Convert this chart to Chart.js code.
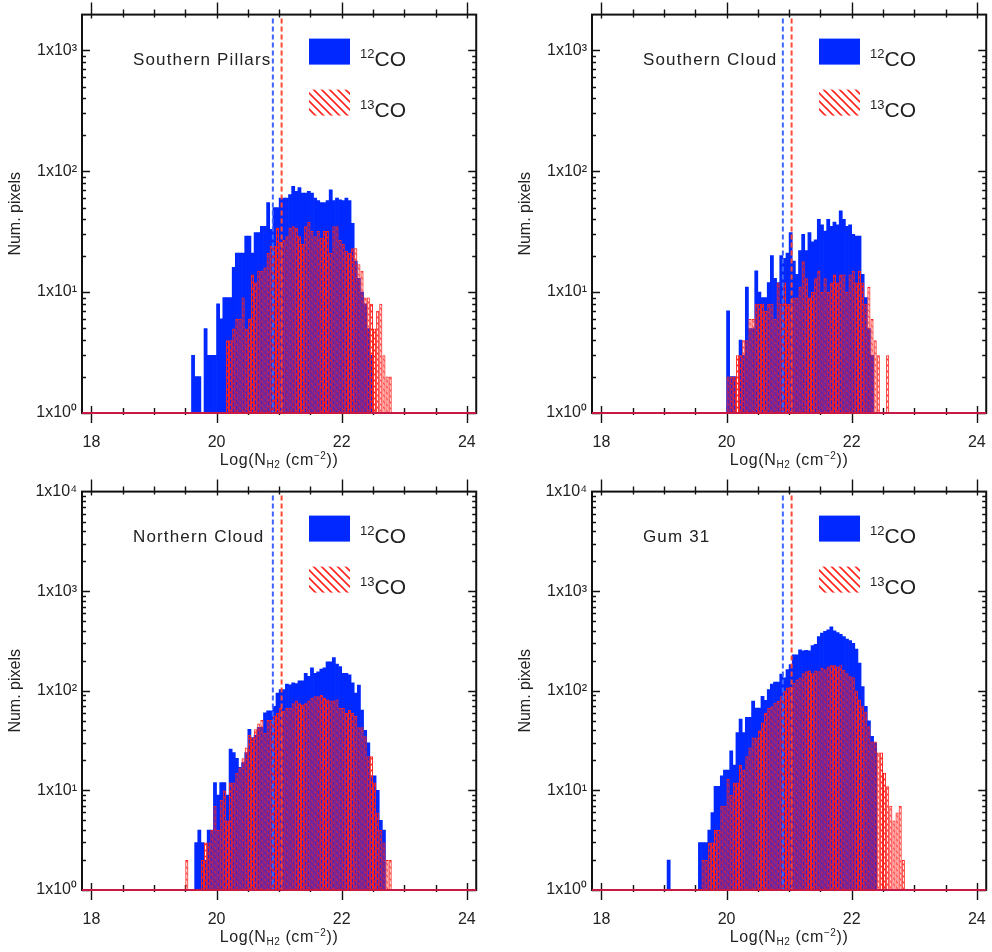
<!DOCTYPE html>
<html>
<head>
<meta charset="utf-8">
<style>
    body {
        margin: 0;
        overflow: hidden;
        background: #fff;
        width: 992px;
        height: 952px;
        position: relative;
    }
    .panel { position: absolute; width: 496px; height: 476px; }
    .panel canvas { position: absolute; left: 0; top: 0; }
    .name {
        position: absolute;
        font: 17px 'Liberation Sans', Arial, sans-serif;
        line-height: 17px;
        color: #222;
        letter-spacing: 1.15px;
        white-space: nowrap;
    }
    .key {
        position: absolute;
        font: 21px 'Liberation Sans', Arial, sans-serif;
        line-height: 21px;
        color: #222;
        white-space: nowrap;
    }
    .key sup { font-size: 13px; vertical-align: 8px; line-height: 0; }
    .xtitle {
        position: absolute;
        font: 16px 'Liberation Sans', Arial, sans-serif;
        line-height: 16px;
        color: #222;
        white-space: nowrap;
        transform: translateX(-50%);
        letter-spacing: 0.6px;
    }
    .xtitle sub { font-size: 10px; vertical-align: -3px; line-height: 0; }
    .xtitle sup { font-size: 10px; vertical-align: 6px; line-height: 0; }
</style>
<script src="https://cdn.jsdelivr.net/npm/chart.js@4"></script>
</head>
<body>
<script>
// histogram bins are 0.05 dex wide; each list starts at the given left bin edge
const binWidth = 0.05;
const xTicks = [18, 20, 22, 24];
const cutLines = [20.9, 21.04];   // 12CO / 13CO dashed limits

const pillarsStart12 = 19.6;
const pillars12 = [3,2,2,1,5,3,3,3,8,6,9,9,9,16,21,21,21,29,29,21,31,31,35,35,55,33,50,50,60,60,60,64,75,68,73,66,66,68,66,60,57,55,55,57,70,57,60,58,57,60,57,37,18,13,10,8,5,3];
const pillarsStart13 = 20.15;
const pillars13 = [4,4,5,6,6,9,5,6,14,12,15,15,16,21,24,24,34,26,27,29,34,35,34,29,25,35,38,32,29,32,28,32,32,21,35,35,27,25,22,21,23,23,17,15,9,9,8,5,7,8,3,2,2];

const southStart12 = 20.0;
const south12 = [7,2,2,1,4,3,11,5,5,15,10,9,9,12,20,13,12,20,19,21,31,18,14,22,30,22,31,26,27,40,36,32,40,35,38,36,47,40,35,36,30,29,29,14,9,5,3];
const southStart13 = 20.0;
const south13 = [2,2,2,3,3,4,4,6,6,8,8,8,7,8,8,6,12,8,12,8,8,9,9,11,18,13,9,10,13,15,10,13,10,12,14,12,14,14,10,14,15,12,15,12,8,11,6,4,3,0,0,3];

const northStart12 = 19.65;
const north12 = [3,4,3,2,4,4,12,9,12,12,9,26,24,21,17,19,24,41,34,36,43,43,60,63,63,70,95,103,103,117,115,120,118,126,126,150,140,170,150,155,165,170,195,195,216,185,175,150,150,145,120,95,114,64,40,30,14,14,10,5,4];
const northStart13 = 19.5;
const north13 = [2,0,0,0,0,2,3,3,4,7,4,8,10,5,12,12,15,17,21,27,36,34,41,47,51,38,51,51,56,60,67,63,67,67,75,80,75,73,75,80,85,88,88,91,85,82,80,80,82,67,67,60,64,60,56,43,43,35,22,22,12,6,4,3,2,2];

const gumStart12 = 19.0;
const gum12 = [0,2,0,0,0,0,0,0,0,0,0,3,3,3,4,6,11,11,14,16,16,25,18,38,52,38,54,54,79,67,67,88,80,103,117,122,122,147,135,163,183,230,230,258,252,255,252,285,293,350,380,395,410,440,400,385,370,350,330,320,300,262,190,110,70,50,35,30];
const gumStart13 = 19.6;
const gum13 = [2,2,3,3,4,4,7,7,13,9,12,12,18,16,22,27,34,34,40,48,60,67,70,76,79,88,100,108,110,120,130,135,150,157,160,150,160,157,170,165,175,180,180,175,180,163,150,140,137,100,82,70,62,44,31,31,24,24,15,11,7,5,6,7,2];

const panelNames = ['Southern Pillars', 'Southern Cloud', 'Northern Cloud', 'Gum 31'];
const yMaxes = [1970, 1970, 10000, 10000];
const yTicksTop = [1, 10, 100, 1000];
const yTicksBottom = [1, 10, 100, 1000, 10000];

const series = [
    [pillarsStart12, pillars12, pillarsStart13, pillars13],
    [southStart12, south12, southStart13, south13],
    [northStart12, north12, northStart13, north13],
    [gumStart12, gum12, gumStart13, gum13]
];

// layout of the four boxes on the page
const spots = [[0, 0], [510, 0], [0, 477], [510, 477]];
const padL = 82, padT = 12, padR = 11, axisH = 63;

const blue = 'rgb(0,40,255)';
const red = 'rgb(255,35,30)';
const font = { family: "'Liberation Sans', Arial, sans-serif", size: 16 };
const sup = ['\u2070', '\u00b9', '\u00b2', '\u00b3', '\u2074'];

function hist(start, counts) {
    return counts.map((c, i) => ({
        x: +(start + (i + 0.5) * binWidth).toFixed(3),
        y: c > 0 ? c : null
    }));
}

function hatch(w, step) {
    const c = document.createElement('canvas');
    c.width = step; c.height = step;
    const g = c.getContext('2d');
    g.strokeStyle = red;
    g.lineWidth = w;
    g.beginPath();
    g.moveTo(-1, -1); g.lineTo(step + 1, step + 1);
    g.moveTo(-step / 2 - 1, step / 2 - 1); g.lineTo(step / 2 + 1, step * 1.5 + 1);
    g.moveTo(step / 2 - 1, -step / 2 - 1); g.lineTo(step * 1.5 + 1, step / 2 + 1);
    g.stroke();
    return g.createPattern(c, 'repeat');
}

const frame = {
    id: 'frame',
    beforeDatasetsDraw(chart) {
        const { ctx, chartArea: a, scales: { x, y } } = chart;
        ctx.save();
        ctx.strokeStyle = '#111';
        ctx.lineWidth = 1.4;
        ctx.beginPath();
        for (let v = 18; v <= 24; v += 0.5) {
            const px = Math.round(x.getPixelForValue(v)) + 0.5;
            const major = v % 2 === 0;
            ctx.moveTo(px, a.bottom - (major ? 7 : 5));
            ctx.lineTo(px, a.bottom + (major ? 10 : 2));
            ctx.moveTo(px, a.top - (major ? 12 : 5));
            ctx.lineTo(px, a.top + (major ? 4 : 3));
        }
        for (let d = 1; d < y.max; d *= 10) {
            for (let m = 1; m <= 9; m++) {
                const v = d * m;
                if (v > y.max) break;
                const py = Math.round(y.getPixelForValue(v)) + 0.5;
                const len = m === 1 ? 8 : 4;
                ctx.moveTo(a.left, py); ctx.lineTo(a.left + len, py);
                ctx.moveTo(a.right, py); ctx.lineTo(a.right - len, py);
            }
        }
        ctx.stroke();
        ctx.restore();
    },
    afterDatasetsDraw(chart) {
        const { ctx, chartArea: a, scales: { x } } = chart;
        ctx.save();
        // dashed limits
        ctx.lineWidth = 2;
        ctx.setLineDash([5, 3]);
        [['rgb(60,100,255)', cutLines[0]], ['rgb(255,70,50)', cutLines[1]]].forEach(([col, v]) => {
            const px = x.getPixelForValue(v);
            ctx.strokeStyle = col;
            ctx.beginPath();
            ctx.moveTo(px, a.top + 4);
            ctx.lineTo(px, a.bottom);
            ctx.stroke();
        });
        ctx.setLineDash([]);
        // key swatches
        ctx.fillStyle = blue;
        ctx.fillRect(a.left + 227, a.top + 24, 41, 26);
        ctx.fillStyle = chart.$key;
        ctx.fillRect(a.left + 227, a.top + 75, 41, 26);
        // box
        ctx.strokeStyle = '#111';
        ctx.lineWidth = 2;
        ctx.strokeRect(a.left, a.top, a.right - a.left, a.bottom - a.top);
        ctx.strokeStyle = 'rgb(200,25,70)';
        ctx.beginPath();
        ctx.moveTo(a.left, a.bottom);
        ctx.lineTo(a.right, a.bottom);
        ctx.stroke();
        ctx.restore();
    }
};

series.forEach(([s12, c12, s13, c13], i) => {
    const box = document.createElement('div');
    box.className = 'panel';
    box.style.left = spots[i][0] + 'px';
    box.style.top = spots[i][1] + 'px';
    const cv = document.createElement('canvas');
    cv.width = 496; cv.height = 476;
    box.appendChild(cv);
    document.body.appendChild(box);

    const yTicks = i < 2 ? yTicksTop : yTicksBottom;

    const chart = new Chart(cv, {
        type: 'bar',
        data: {
            datasets: [
                { label: '13CO', data: hist(s13, c13), backgroundColor: hatch(1.25, 6), borderColor: red,
                  borderWidth: 1, borderSkipped: false, grouped: false, inflateAmount: 0, order: 1 },
                { label: '12CO', data: hist(s12, c12), backgroundColor: blue,
                  borderWidth: 0, grouped: false, order: 2 }
            ]
        },
        options: {
            responsive: false,
            animation: false,
            events: [],
            datasets: { bar: { barPercentage: 1, categoryPercentage: 1 } },
            layout: { padding: { left: 0, top: padT, right: padR, bottom: 0 } },
            plugins: { legend: { display: false }, tooltip: { enabled: false } },
            scales: {
                x: {
                    type: 'linear', min: 17.85, max: 24.15, offset: false,
                    grid: { display: false, drawTicks: false },
                    border: { display: false },
                    ticks: { padding: 20, font, color: '#222', maxRotation: 0, autoSkip: false },
                    afterBuildTicks: s => { s.ticks = xTicks.map(v => ({ value: v })); },
                    afterFit: s => { s.height = axisH; }
                },
                y: {
                    type: 'logarithmic', min: 1, max: yMaxes[i],
                    grid: { display: false, drawTicks: false },
                    border: { display: false },
                    ticks: {
                        padding: 5, font, color: '#222', autoSkip: false,
                        callback: v => '1x10' + sup[Math.round(Math.log10(v))]
                    },
                    afterBuildTicks: s => { s.ticks = yTicks.map(v => ({ value: v })); },
                    afterFit: s => { s.width = padL; },
                    title: { display: true, text: 'Num. pixels', font, color: '#222', padding: { top: 6, bottom: 0 } }
                }
            }
        },
        plugins: [frame]
    });
    chart.$key = hatch(1.6, 8);
    chart.draw();

    const a = chart.chartArea;
    const name = document.createElement('div');
    name.className = 'name';
    name.textContent = panelNames[i];
    name.style.left = (a.left + 51) + 'px';
    name.style.top = (a.top + 36) + 'px';
    box.appendChild(name);

    [['12', 33], ['13', 84]].forEach(([iso, dy]) => {
        const k = document.createElement('div');
        k.className = 'key';
        k.innerHTML = '<sup>' + iso + '</sup>CO';
        k.style.left = (a.left + 278) + 'px';
        k.style.top = (a.top + dy) + 'px';
        box.appendChild(k);
    });

    const xt = document.createElement('div');
    xt.className = 'xtitle';
    xt.innerHTML = 'Log(N<sub>H2</sub> (cm<sup>\u22122</sup>))';
    xt.style.left = ((a.left + a.right) / 2) + 'px';
    xt.style.top = (a.bottom + 39) + 'px';
    box.appendChild(xt);
});
</script>
</body>
</html>
